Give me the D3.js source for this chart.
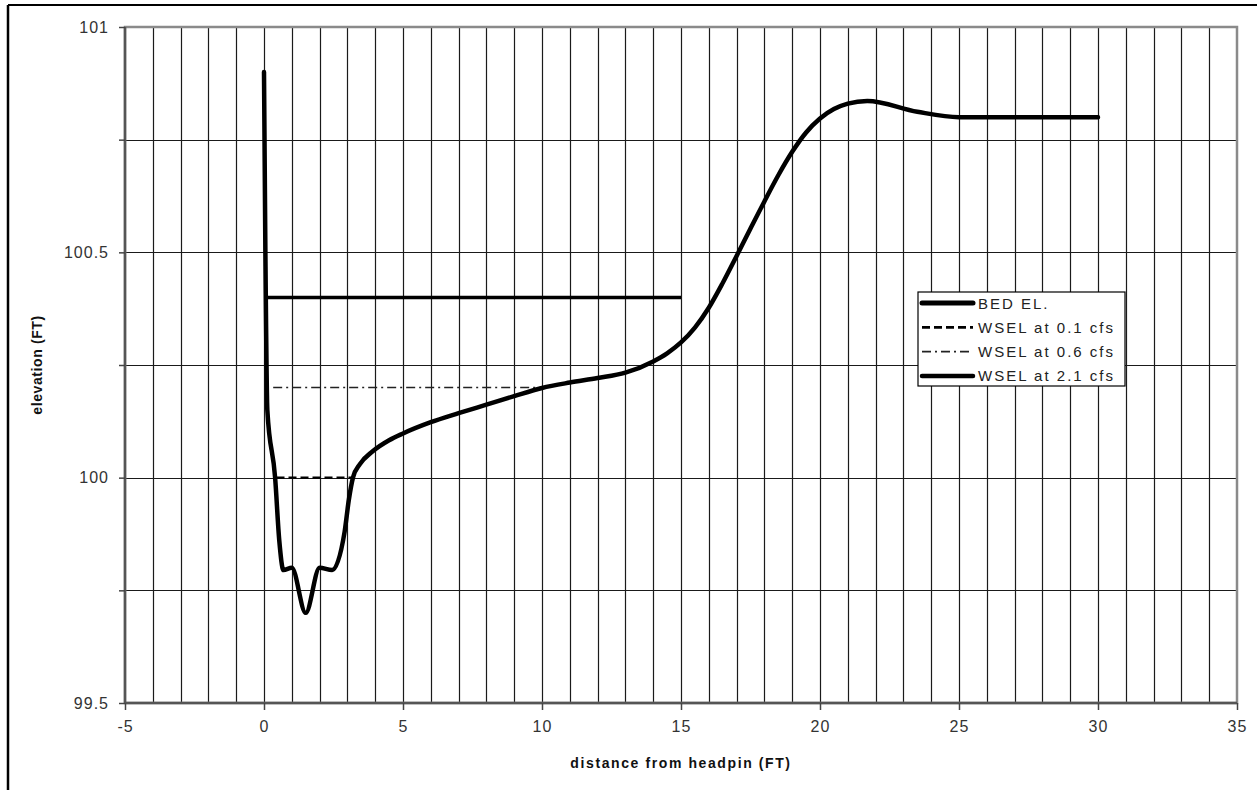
<!DOCTYPE html>
<html>
<head>
<meta charset="utf-8">
<script src="https://cdn.jsdelivr.net/npm/d3@7"></script>
<style>
  body { margin: 0; background: #fff; }
  svg text { font-family: "Liberation Sans", Arial, sans-serif; }
</style>
</head>
<body>
<div id="chart-area"></div>
<script>
// data
var bedX = [0, 0.05, 0.12, 0.4, 0.55, 0.7, 1.0, 1.5, 2.0, 2.45, 2.9, 3.05, 3.2, 3.45, 3.9, 4.5, 5, 6, 7, 8, 9, 10, 11, 12, 13, 14, 14.5, 15, 15.5, 16, 16.5, 17, 17.5, 18, 18.5, 19, 19.5, 20, 20.5, 21, 21.7, 23.5, 25, 30];
var bedY = [100.9, 100.5, 100.15, 100.0, 99.86, 99.795, 99.8, 99.7, 99.8, 99.795, 99.88, 99.95, 100.0, 100.03, 100.058, 100.083, 100.098, 100.123, 100.143, 100.162, 100.181, 100.199, 100.211, 100.221, 100.233, 100.258, 100.276, 100.3, 100.333, 100.377, 100.432, 100.492, 100.553, 100.613, 100.671, 100.723, 100.766, 100.797, 100.818, 100.83, 100.836, 100.812, 100.8, 100.8];

var wsel01X = [0.45, 3.15], wsel01Y = [100, 100];
var wsel06X = [0.33, 10.0], wsel06Y = [100.2, 100.2];
var wsel21X = [0.05, 15], wsel21Y = [100.4, 100.4];

var xTicks = [-5, 0, 5, 10, 15, 20, 25, 30, 35];
var yTicks = [99.5, 100, 100.5, 101];
var legendLabels = ["BED EL.", "WSEL at 0.1 cfs", "WSEL at 0.6 cfs", "WSEL at 2.1 cfs"];

var W = 1257, H = 790;
var mLeft = 125, mTop = 27, mRight = 1237, mBottom = 703;

var svg = d3.select("#chart-area")
    .append("svg")
    .attr("width", W)
    .attr("height", H);

// outer frame (only top/left visible)
svg.append("line").attr("x1", 8).attr("x2", W).attr("y1", 5).attr("y2", 5)
    .attr("stroke", "#000").attr("stroke-width", 2);
svg.append("line").attr("x1", 8).attr("x2", 8).attr("y1", 5).attr("y2", H)
    .attr("stroke", "#000").attr("stroke-width", 2.5);

var x = d3.scaleLinear().domain([-5, 35]).range([mLeft, mRight]);
var y = d3.scaleLinear().domain([99.5, 101]).range([mBottom, mTop]);

// grid
svg.append("g").selectAll("line")
    .data(d3.range(-4, 35, 1))
    .enter().append("line")
    .attr("x1", function(d) { return Math.round(x(d)) + 0.5; })
    .attr("x2", function(d) { return Math.round(x(d)) + 0.5; })
    .attr("y1", mTop).attr("y2", mBottom)
    .attr("stroke", "#1a1a1a").attr("stroke-width", 1.2);

svg.append("g").selectAll("line")
    .data([99.75, 100, 100.25, 100.5, 100.75])
    .enter().append("line")
    .attr("x1", mLeft).attr("x2", mRight)
    .attr("y1", function(d) { return Math.round(y(d)) + 0.5; })
    .attr("y2", function(d) { return Math.round(y(d)) + 0.5; })
    .attr("stroke", "#1a1a1a").attr("stroke-width", 1.2);

// plot border
svg.append("rect")
    .attr("x", mLeft).attr("y", mTop)
    .attr("width", mRight - mLeft).attr("height", mBottom - mTop)
    .attr("fill", "none").attr("stroke", "#8a8a8a").attr("stroke-width", 2.5);
svg.append("line").attr("x1", mLeft).attr("x2", mLeft).attr("y1", mTop).attr("y2", mBottom)
    .attr("stroke", "#555").attr("stroke-width", 2.5);
svg.append("line").attr("x1", mLeft).attr("x2", mRight).attr("y1", mBottom).attr("y2", mBottom)
    .attr("stroke", "#555").attr("stroke-width", 2.5);

// axes
var xAxis = d3.axisBottom(x).tickValues(xTicks).tickSize(7).tickPadding(8)
    .tickFormat(function(d) { return String(d); });
var gx = svg.append("g").attr("transform", "translate(0," + mBottom + ")").call(xAxis);
gx.select(".domain").remove();
gx.selectAll(".tick line").attr("stroke", "#444").attr("stroke-width", 1.5);
gx.selectAll("text").attr("font-size", 16).attr("fill", "#333")
    .attr("letter-spacing", 1).attr("dy", "0.9em");

var yAxis = d3.axisLeft(y).tickValues([99.5, 99.75, 100, 100.25, 100.5, 100.75, 101])
    .tickSize(6).tickPadding(10)
    .tickFormat(function(d) { return yTicks.indexOf(d) >= 0 ? String(d) : ""; });
var gy = svg.append("g").attr("transform", "translate(" + mLeft + ",0)").call(yAxis);
gy.select(".domain").remove();
gy.selectAll(".tick line").attr("stroke", "#444").attr("stroke-width", 1.5);
gy.selectAll("text").attr("font-size", 16).attr("fill", "#333").attr("letter-spacing", 1);

// axis titles
svg.append("text")
    .attr("x", (mLeft + mRight) / 2).attr("y", 768)
    .attr("text-anchor", "middle")
    .attr("font-size", 14).attr("font-weight", "bold").attr("letter-spacing", 1.6)
    .attr("fill", "#111")
    .text("distance from headpin (FT)");
svg.append("text")
    .attr("transform", "translate(42,365) rotate(-90)")
    .attr("text-anchor", "middle")
    .attr("font-size", 14).attr("font-weight", "bold").attr("letter-spacing", 0.6)
    .attr("fill", "#111")
    .text("elevation (FT)");

// lines
function pts(xs, ys) { return xs.map(function(d, i) { return [d, ys[i]]; }); }

var line = d3.line()
    .x(function(d) { return x(d[0]); })
    .y(function(d) { return y(d[1]); });

var smooth = d3.line()
    .x(function(d) { return x(d[0]); })
    .y(function(d) { return y(d[1]); })
    .curve(d3.curveMonotoneX);

var styles = [
    { w: 4.5, dash: null, color: "#000" },
    { w: 2.2, dash: "8,4", color: "#000" },
    { w: 1.4, dash: "9,4,2,4", color: "#222" },
    { w: 3.5, dash: null, color: "#000" }
];

svg.append("path").datum(pts(wsel01X, wsel01Y))
    .attr("d", line).attr("fill", "none")
    .attr("stroke", styles[1].color).attr("stroke-width", styles[1].w)
    .attr("stroke-dasharray", styles[1].dash);
svg.append("path").datum(pts(wsel06X, wsel06Y))
    .attr("d", line).attr("fill", "none")
    .attr("stroke", styles[2].color).attr("stroke-width", styles[2].w)
    .attr("stroke-dasharray", styles[2].dash);
svg.append("path").datum(pts(wsel21X, wsel21Y))
    .attr("d", line).attr("fill", "none")
    .attr("stroke", styles[3].color).attr("stroke-width", styles[3].w);
svg.append("path").datum(pts(bedX, bedY))
    .attr("d", smooth).attr("fill", "none")
    .attr("stroke", styles[0].color).attr("stroke-width", styles[0].w)
    .attr("stroke-linejoin", "round").attr("stroke-linecap", "round");

// legend
var lg = svg.append("g").attr("transform", "translate(918,292)");
lg.append("rect").attr("width", 207).attr("height", 94)
    .attr("fill", "#fff").attr("stroke", "#000").attr("stroke-width", 1.2);
legendLabels.forEach(function(name, i) {
    var yy = 11 + i * 24.3;
    lg.append("line").attr("x1", 4).attr("x2", 55).attr("y1", yy).attr("y2", yy)
        .attr("stroke", styles[i].color)
        .attr("stroke-width", i == 0 ? 5 : (i == 3 ? 4.5 : (i == 1 ? 2.8 : 1.6)))
        .attr("stroke-dasharray", styles[i].dash)
        .attr("stroke-linecap", i == 0 || i == 3 ? "round" : "butt");
    lg.append("text").attr("x", 60).attr("y", yy + 5.5)
        .attr("font-size", 15).attr("letter-spacing", 2).attr("fill", "#222")
        .text(name);
});
</script>
</body>
</html>
